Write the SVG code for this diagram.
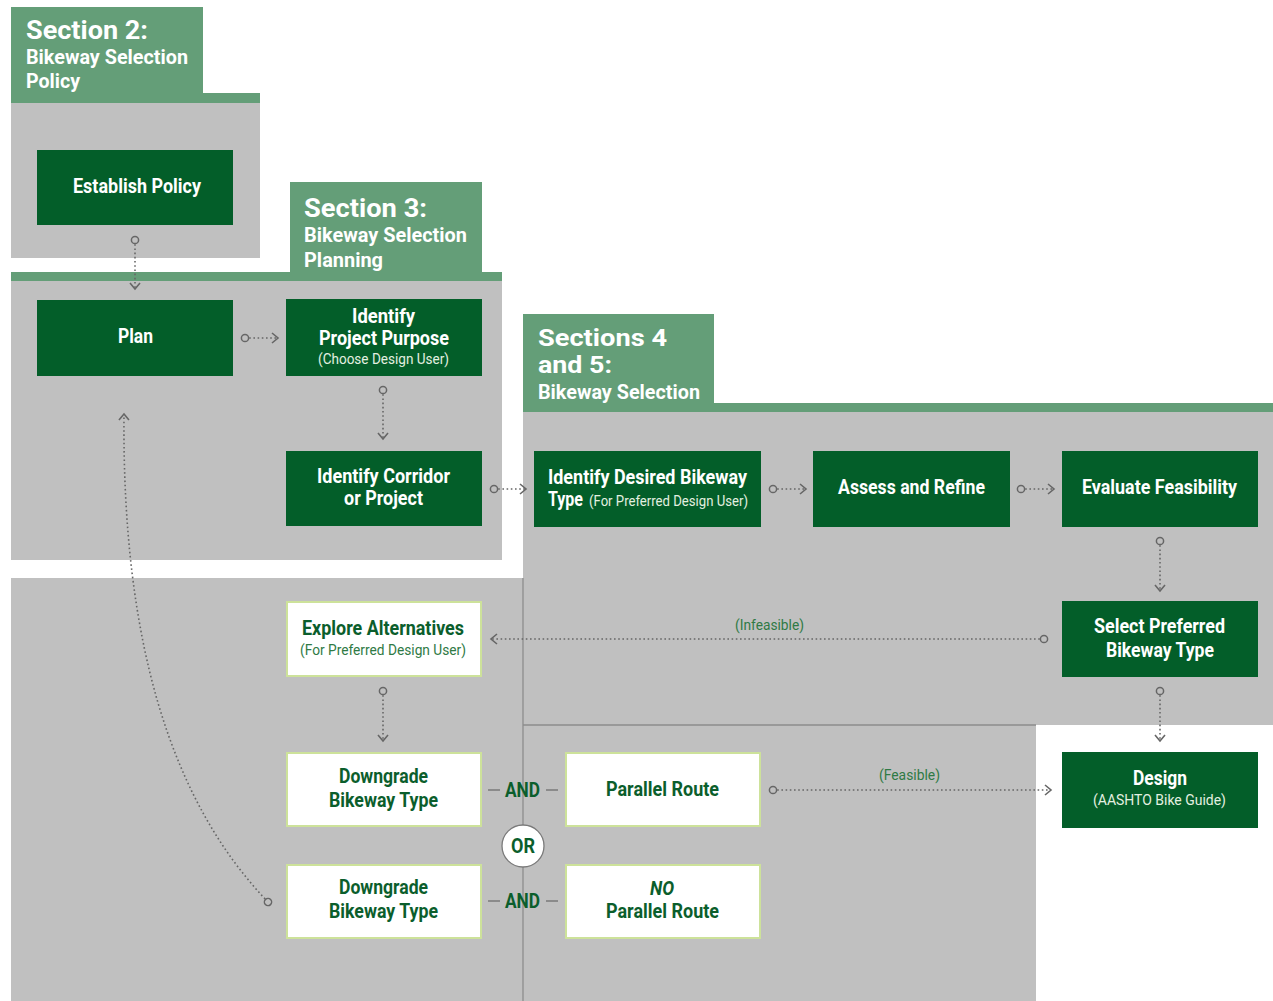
<svg xmlns="http://www.w3.org/2000/svg" width="1273" height="1001" viewBox="0 0 1273 1001">
<style>
.tab{fill:#649e78}
.bg{fill:#c0c0c0}
.dk{fill:#035e29}
.wt{fill:#fff;stroke:#cde29a;stroke-width:2}
.t{font-family:Roboto,"Liberation Sans",sans-serif;font-weight:700;font-size:20px;text-anchor:middle}
.h{font-family:Roboto,"Liberation Sans",sans-serif;font-weight:700;fill:#fff}
.h1{font-size:26px}
.h1s{font-size:23px}
.h2{font-size:21px}
.tw{fill:#fff}
.tg{fill:#0b5e2c}
.sub{font-weight:400;font-size:14.5px}
.sw{fill:#e4f0e0}
.sg{fill:#2f7a45}
.lbl{font-family:Roboto,"Liberation Sans",sans-serif;font-size:14px;fill:#2f7a45;text-anchor:middle}
.conn{fill:none;stroke:#666;stroke-width:1.6;stroke-dasharray:1.6 2.6;marker-start:url(#dot);marker-end:url(#chev)}
.sep{stroke:#8d8d8d;stroke-width:1.3;fill:none}
</style>
<defs>
<marker id="chev" markerUnits="userSpaceOnUse" markerWidth="14" markerHeight="14" viewBox="-8 -7 10 14" refX="0" refY="0" orient="auto">
<path d="M-6,-5 L0,0 L-6,5" fill="none" stroke="#666" stroke-width="1.6"/>
</marker>
<marker id="dot" markerUnits="userSpaceOnUse" markerWidth="12" markerHeight="12" viewBox="-6 -6 12 12" refX="0" refY="0" orient="auto">
<circle cx="0" cy="0" r="3.6" fill="#c0c0c0" stroke="#666" stroke-width="1.5"/>
</marker>
</defs>
<rect width="1273" height="1001" fill="#fff"/>

<g id="section2">
<rect class="tab" x="11" y="7" width="192" height="96"/>
<rect class="tab" x="11" y="93" width="249" height="10"/>
<rect class="bg" x="11" y="103" width="249" height="155"/>
<text class="h h1" x="26" y="39" textLength="122" lengthAdjust="spacingAndGlyphs">Section 2:</text>
<text class="h h2" x="26" y="64" textLength="162" lengthAdjust="spacingAndGlyphs">Bikeway Selection</text>
<text class="h h2" x="26" y="88" textLength="54" lengthAdjust="spacingAndGlyphs">Policy</text>
</g>

<g id="section3">
<rect class="tab" x="290" y="182" width="192" height="99"/>
<rect class="tab" x="11" y="272" width="491" height="9"/>
<rect class="bg" x="11" y="281" width="491" height="279"/>
<text class="h h1" x="304" y="217" textLength="123" lengthAdjust="spacingAndGlyphs">Section 3:</text>
<text class="h h2" x="304" y="242" textLength="163" lengthAdjust="spacingAndGlyphs">Bikeway Selection</text>
<text class="h h2" x="304" y="267" textLength="79" lengthAdjust="spacingAndGlyphs">Planning</text>
</g>

<g id="lower-area">
<rect class="bg" x="11" y="578" width="1025" height="423"/>
</g>

<g id="section45">
<rect class="tab" x="523" y="314" width="191" height="99"/>
<rect class="tab" x="523" y="403" width="750" height="9"/>
<rect class="bg" x="523" y="412" width="750" height="313"/>
<text class="h h1s" x="538" y="346" textLength="129" lengthAdjust="spacingAndGlyphs">Sections 4</text>
<text class="h h1s" x="538" y="373" textLength="74" lengthAdjust="spacingAndGlyphs">and 5:</text>
<text class="h h2" x="538" y="399" textLength="162" lengthAdjust="spacingAndGlyphs">Bikeway Selection</text>
</g>

<g id="separators">
<line class="sep" x1="523" y1="578" x2="523" y2="1001"/>
<line class="sep" x1="523" y1="725" x2="1036" y2="725"/>
</g>

<g id="n-establish">
<rect class="dk" x="37" y="150" width="196" height="75"/>
<text class="t tw" x="137" y="193" textLength="128" lengthAdjust="spacingAndGlyphs">Establish Policy</text>
</g>
<g id="n-plan">
<rect class="dk" x="37" y="300" width="196" height="76"/>
<text class="t tw" x="135.5" y="343" textLength="35" lengthAdjust="spacingAndGlyphs">Plan</text>
</g>
<g id="n-purpose">
<rect class="dk" x="286" y="299" width="196" height="77"/>
<text class="t tw" x="383.5" y="323" textLength="63" lengthAdjust="spacingAndGlyphs">Identify</text>
<text class="t tw" x="384" y="345" textLength="130" lengthAdjust="spacingAndGlyphs">Project Purpose</text>
<text class="t sub sw" x="383.5" y="364" textLength="131" lengthAdjust="spacingAndGlyphs">(Choose Design User)</text>
</g>
<g id="n-corridor">
<rect class="dk" x="286" y="451" width="196" height="75"/>
<text class="t tw" x="383.5" y="483" textLength="133" lengthAdjust="spacingAndGlyphs">Identify Corridor</text>
<text class="t tw" x="383.5" y="505" textLength="79" lengthAdjust="spacingAndGlyphs">or Project</text>
</g>
<g id="n-desired">
<rect class="dk" x="534" y="451" width="227" height="76"/>
<text class="t tw" x="647.5" y="484" textLength="199" lengthAdjust="spacingAndGlyphs">Identify Desired Bikeway</text>
<text class="t tw" x="548" y="506" style="text-anchor:start" textLength="35" lengthAdjust="spacingAndGlyphs">Type</text>
<text class="t sub sw" x="589" y="506" style="text-anchor:start" textLength="159" lengthAdjust="spacingAndGlyphs">(For Preferred Design User)</text>
</g>
<g id="n-assess">
<rect class="dk" x="813" y="451" width="197" height="76"/>
<text class="t tw" x="911.5" y="494" textLength="147" lengthAdjust="spacingAndGlyphs">Assess and Refine</text>
</g>
<g id="n-evaluate">
<rect class="dk" x="1062" y="451" width="196" height="76"/>
<text class="t tw" x="1159.5" y="494" textLength="155" lengthAdjust="spacingAndGlyphs">Evaluate Feasibility</text>
</g>
<g id="n-select">
<rect class="dk" x="1062" y="601" width="196" height="76"/>
<text class="t tw" x="1159.5" y="633" textLength="131" lengthAdjust="spacingAndGlyphs">Select Preferred</text>
<text class="t tw" x="1160" y="657" textLength="108" lengthAdjust="spacingAndGlyphs">Bikeway Type</text>
</g>
<g id="n-design">
<rect class="dk" x="1062" y="752" width="196" height="76"/>
<text class="t tw" x="1160" y="785" textLength="54" lengthAdjust="spacingAndGlyphs">Design</text>
<text class="t sub sw" x="1159.5" y="805" textLength="133" lengthAdjust="spacingAndGlyphs">(AASHTO Bike Guide)</text>
</g>
<g id="n-explore">
<rect class="wt" x="287" y="602" width="194" height="74"/>
<text class="t tg" x="383" y="635" textLength="162" lengthAdjust="spacingAndGlyphs">Explore Alternatives</text>
<text class="t sub sg" x="383" y="655" textLength="166" lengthAdjust="spacingAndGlyphs">(For Preferred Design User)</text>
</g>
<g id="n-downgrade1">
<rect class="wt" x="287" y="753" width="194" height="73"/>
<text class="t tg" x="383.5" y="783" textLength="89" lengthAdjust="spacingAndGlyphs">Downgrade</text>
<text class="t tg" x="383.5" y="807" textLength="109" lengthAdjust="spacingAndGlyphs">Bikeway Type</text>
</g>
<g id="n-parallel">
<rect class="wt" x="566" y="753" width="194" height="73"/>
<text class="t tg" x="662.5" y="796" textLength="113" lengthAdjust="spacingAndGlyphs">Parallel Route</text>
</g>
<g id="n-downgrade2">
<rect class="wt" x="287" y="865" width="194" height="73"/>
<text class="t tg" x="383.5" y="894" textLength="89" lengthAdjust="spacingAndGlyphs">Downgrade</text>
<text class="t tg" x="383.5" y="918" textLength="109" lengthAdjust="spacingAndGlyphs">Bikeway Type</text>
</g>
<g id="n-noparallel">
<rect class="wt" x="566" y="865" width="194" height="73"/>
<text class="t tg" x="662" y="895" font-style="italic" textLength="24" lengthAdjust="spacingAndGlyphs">NO</text>
<text class="t tg" x="662.5" y="918" textLength="113" lengthAdjust="spacingAndGlyphs">Parallel Route</text>
</g>

<g id="logic">
<line x1="488" y1="790" x2="500" y2="790" stroke="#7a7a7a" stroke-width="1.5"/>
<line x1="546" y1="790" x2="558" y2="790" stroke="#7a7a7a" stroke-width="1.5"/>
<text class="t tg" x="522.5" y="797" textLength="35" lengthAdjust="spacingAndGlyphs">AND</text>
<line x1="488" y1="901" x2="500" y2="901" stroke="#7a7a7a" stroke-width="1.5"/>
<line x1="546" y1="901" x2="558" y2="901" stroke="#7a7a7a" stroke-width="1.5"/>
<text class="t tg" x="522.5" y="908" textLength="35" lengthAdjust="spacingAndGlyphs">AND</text>
<circle cx="523" cy="846" r="21" fill="#fff" stroke="#7a7a7a" stroke-width="1.3"/>
<text class="t tg" x="523" y="853" textLength="24" lengthAdjust="spacingAndGlyphs">OR</text>
</g>

<g id="connectors">
<path class="conn" d="M135,240 L135,289"/>
<path class="conn" d="M245,338 L278,338"/>
<path class="conn" d="M383,390 L383,439"/>
<path class="conn" d="M494,489 L526,489"/>
<path class="conn" d="M773,489 L806,489"/>
<path class="conn" d="M1021,489 L1054,489"/>
<path class="conn" d="M1160,541 L1160,591"/>
<path class="conn" d="M1044,639 L491,639"/>
<path class="conn" d="M1160,691 L1160,741"/>
<path class="conn" d="M383,691 L383,741"/>
<path class="conn" d="M773,790 L1051,790"/>
<path class="conn" d="M268,902 C170,800 122,640 124,414"/>
<text class="lbl" x="769.5" y="630" textLength="69" lengthAdjust="spacingAndGlyphs">(Infeasible)</text>
<text class="lbl" x="909.5" y="780" textLength="61" lengthAdjust="spacingAndGlyphs">(Feasible)</text>
</g>
</svg>
